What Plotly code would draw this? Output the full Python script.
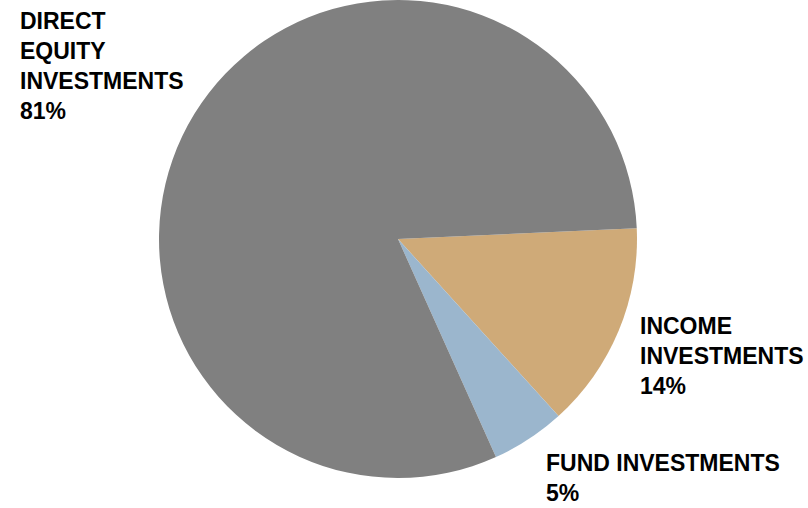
"""Portfolio allocation pie chart."""

import plotly.graph_objects as go

# Data
labels = ["INCOME INVESTMENTS", "FUND INVESTMENTS", "DIRECT EQUITY INVESTMENTS"]
values = [14, 5, 81]
label_text = [
    "INCOME<br>INVESTMENTS<br>14%",
    "FUND INVESTMENTS<br>5%",
    "DIRECT<br>EQUITY<br>INVESTMENTS<br>81%",
]
colors = ["#CFAA78", "#9BB6CD", "#808080"]

W, H = 808, 508
FONT = "Liberation Sans, Arial, sans-serif"

fig = go.Figure()

fig.add_trace(
    go.Pie(
        labels=labels,
        values=values,
        sort=False,
        direction="clockwise",
        rotation=87.4,
        marker=dict(colors=colors, line=dict(color="white", width=0)),
        textinfo="none",
        hoverinfo="label+percent",
        showlegend=False,
        domain=dict(x=[159 / W, 637 / W], y=[1 - 478 / H, 1]),
    )
)

# label placement (pixel positions of the top-left of each text block)
label_pos = [(638, 311), (544, 448), (18, 6)]

for txt, (px, py) in zip(label_text, label_pos):
    fig.add_annotation(
        text=f"<b>{txt}</b>",
        xref="paper",
        yref="paper",
        x=px / W,
        y=1 - py / H,
        xanchor="left",
        yanchor="top",
        align="left",
        showarrow=False,
        font=dict(family=FONT, size=23, color="black"),
    )

fig.update_layout(
    width=W,
    height=H,
    margin=dict(l=0, r=0, t=0, b=0),
    paper_bgcolor="white",
    plot_bgcolor="white",
)

# drop the default page margin so the figure sits at the window corner
fig.write_html(
    "out.html",
    config={"displayModeBar": False},
    post_script="document.body.style.margin = '0';",
)
